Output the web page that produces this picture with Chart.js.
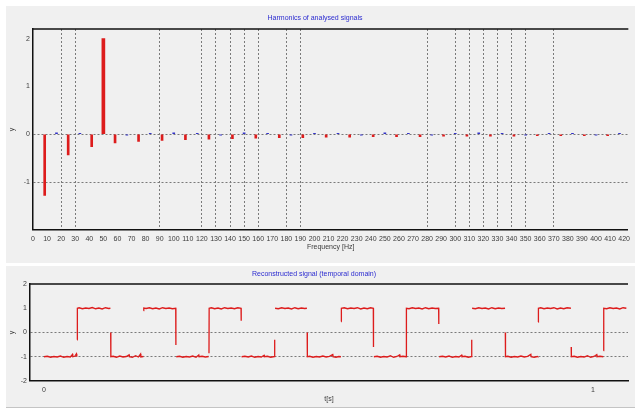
<!DOCTYPE html>
<html>
<head>
<meta charset="utf-8">
<script src="https://cdn.jsdelivr.net/npm/chart.js@4.4.0/dist/chart.umd.min.js"></script>
<style>
  html, body { margin: 0; padding: 0; background: #fff; }
  body { width: 635px; height: 409px; position: relative; overflow: hidden; }
  .panel { position: absolute; background: #f0f0f0; }
  #p1 { left: 6px; top: 6px; width: 629px; height: 257px; }
  #p2 { left: 6px; top: 266px; width: 629px; height: 141px; border-bottom: 1px solid #c4c4c4; }
  canvas { position: absolute; left: 0; }
  #spectrum { top: 0; }
  #signal { top: 264px; }
</style>
</head>
<body>
<div class="panel" id="p1"></div>
<div class="panel" id="p2"></div>
<canvas id="spectrum" width="635" height="262"></canvas>
<canvas id="signal" width="635" height="144"></canvas>
<script>
// spectrum: odd harmonics (red stems), the 50 Hz line, even harmonics (blue, tiny)
const oddFreq = [8.3, 25, 41.7, 58.3, 75, 91.7, 108.3, 125, 141.7, 158.3, 175, 191.7,
  208.3, 225, 241.7, 258.3, 275, 291.7, 308.3, 325, 341.7, 358.3, 375, 391.7, 408.3];
const oddValue = [-1.28, -0.43, -0.26, -0.18, -0.15, -0.13, -0.11, -0.10, -0.09, -0.08, -0.07, -0.07,
  -0.06, -0.06, -0.05, -0.05, -0.05, -0.04, -0.04, -0.04, -0.04, -0.03, -0.03, -0.03, -0.03];
const peakFreq = [50];
const peakValue = [2.0];
const evenFreq = [16.7, 33.3, 50, 66.7, 83.3, 100, 116.7, 133.3, 150, 166.7, 183.3, 200,
  216.7, 233.3, 250, 266.7, 283.3, 300, 316.7, 333.3, 350, 366.7, 383.3, 400, 416.7];
const evenValue = [0.03, 0.02, 0.03, -0.02, 0.02, 0.03, 0.02, -0.02, 0.03, 0.02, -0.02, 0.02,
  0.02, -0.02, 0.03, 0.02, -0.02, 0.02, 0.03, 0.02, -0.02, 0.02, 0.02, -0.02, 0.02];
// frequencies that carry a dotted marker line
const markerFreq = [20, 30, 90, 120, 130, 140, 150, 160, 180, 190, 280, 300, 310, 320, 330, 340, 350, 370];
const spectrumGridY = [0, -1];

// reconstructed signal, [t, y]; null breaks the trace
const reconSignal = [
  [0.000,-1.00],[0.006,-0.98],[0.012,-1.02],[0.018,-0.99],[0.024,-1.01],[0.030,-0.97],[0.036,-1.02],[0.042,-0.99],
  [0.048,-1.01],[0.052,-0.90],[0.0525,-1.00],[0.056,-0.98],[0.059,-0.88],[0.0595,-1.00],[0.060,-0.99],
  [0.0602,null],
  [0.0605,-0.30],[0.0608,1.00],
  [0.064,1.02],[0.070,0.98],[0.076,1.01],[0.082,0.99],[0.088,1.03],[0.094,0.98],[0.100,1.01],[0.106,0.97],
  [0.112,1.02],[0.118,0.99],[0.121,1.00],
  [0.1212,null],
  [0.1215,0.00],[0.1218,-1.00],
  [0.126,-0.98],[0.132,-1.02],[0.138,-0.97],[0.144,-1.01],[0.150,-0.99],[0.155,-0.92],[0.1555,-1.00],[0.161,-1.02],
  [0.167,-0.96],[0.172,-1.01],[0.176,-0.89],[0.1765,-1.01],[0.181,-0.99],
  [0.1812,null],
  [0.1815,0.90],[0.1818,1.01],
  [0.186,0.99],[0.192,1.02],[0.198,0.98],[0.204,1.01],[0.210,0.97],[0.216,1.02],[0.222,0.99],[0.228,1.01],
  [0.234,0.98],[0.240,1.00],
  [0.2403,-0.52],
  [0.2406,null],
  [0.241,-1.00],[0.247,-0.98],[0.253,-1.02],[0.259,-0.99],[0.265,-1.01],[0.271,-0.97],[0.277,-1.02],[0.282,-0.93],
  [0.2825,-1.00],[0.288,-0.98],[0.294,-1.01],[0.300,-0.99],
  [0.3003,null],
  [0.3006,-0.86],[0.3009,1.00],
  [0.305,1.02],[0.311,0.98],[0.317,1.01],[0.323,0.97],[0.329,1.02],[0.335,0.99],[0.341,1.01],[0.347,0.98],
  [0.353,1.02],[0.359,1.00],
  [0.3593,0.48],
  [0.3596,null],
  [0.360,-1.00],[0.366,-0.98],[0.372,-1.01],[0.378,-0.97],[0.384,-1.02],[0.390,-0.99],[0.396,-1.01],[0.401,-0.94],
  [0.4015,-1.00],[0.407,-0.98],[0.413,-1.02],[0.420,-0.99],
  [0.4203,-0.30],
  [0.4206,null],
  [0.421,1.00],[0.427,0.98],[0.433,1.02],[0.439,0.99],[0.445,1.01],[0.451,0.97],[0.457,1.02],[0.463,0.98],
  [0.469,1.01],[0.475,0.99],[0.479,1.00],
  [0.4792,null],
  [0.4795,0.00],[0.4798,-1.00],
  [0.484,-0.98],[0.490,-1.02],[0.496,-0.99],[0.502,-1.01],[0.508,-0.97],[0.514,-1.01],[0.520,-0.98],[0.526,-0.91],
  [0.5265,-1.00],[0.532,-1.02],[0.537,-0.99],[0.541,-1.00],
  [0.5412,null],
  [0.5415,0.45],[0.5418,1.00],
  [0.547,1.02],[0.553,0.98],[0.559,1.01],[0.565,0.99],[0.571,1.02],[0.577,0.97],[0.583,1.01],[0.589,0.98],
  [0.595,1.02],[0.600,1.00],
  [0.6003,-0.60],
  [0.6006,null],
  [0.601,-1.00],[0.607,-0.98],[0.613,-1.02],[0.619,-0.99],[0.625,-1.01],[0.631,-0.96],[0.637,-1.02],[0.643,-0.99],
  [0.648,-0.92],[0.6485,-1.00],[0.654,-0.98],[0.660,-1.00],
  [0.6603,1.00],
  [0.665,0.98],[0.671,1.02],[0.677,0.99],[0.683,1.01],[0.689,0.97],[0.695,1.02],[0.701,0.98],[0.707,1.01],
  [0.713,0.99],[0.719,1.00],
  [0.7193,0.35],
  [0.7196,null],
  [0.720,-1.00],[0.726,-0.98],[0.732,-1.01],[0.738,-0.97],[0.744,-1.02],[0.750,-0.99],[0.756,-1.01],[0.761,-0.93],
  [0.7615,-1.00],[0.767,-0.98],[0.773,-1.02],[0.779,-0.99],
  [0.7793,-0.30],
  [0.7796,null],
  [0.780,1.00],[0.786,0.98],[0.792,1.02],[0.798,0.99],[0.804,1.01],[0.810,0.97],[0.816,1.02],[0.822,0.98],
  [0.828,1.01],[0.834,0.99],[0.840,1.00],
  [0.8402,null],
  [0.8405,0.00],[0.8408,-1.00],
  [0.845,-0.98],[0.851,-1.02],[0.857,-0.99],[0.863,-1.01],[0.869,-0.97],[0.875,-1.01],[0.881,-0.98],[0.887,-0.90],
  [0.8875,-1.00],[0.893,-1.02],[0.899,-0.99],[0.900,-1.00],
  [0.9002,null],
  [0.9005,0.43],[0.9008,1.00],
  [0.905,1.02],[0.911,0.98],[0.917,1.01],[0.923,0.99],[0.929,1.02],[0.935,0.97],[0.941,1.01],[0.947,0.98],
  [0.953,1.02],[0.960,1.00],
  [0.9602,null],
  [0.9605,-0.60],[0.9608,-1.00],
  [0.966,-0.98],[0.972,-1.02],[0.978,-0.99],[0.984,-1.01],[0.990,-0.96],[0.996,-1.02],[1.002,-0.99],[1.007,-0.91],
  [1.0075,-1.00],[1.013,-0.98],[1.019,-1.00],
  [1.0192,null],
  [1.0195,-0.75],[1.0198,1.00],
  [1.025,0.98],[1.031,1.02],[1.037,0.99],[1.043,1.01],[1.049,0.97],[1.055,1.02],[1.061,1.00]
];
const signalGridY = [0, -1];

const fontFam = "'Liberation Sans', Arial, sans-serif";
const tickFont = { family: fontFam, size: 7 };
const tickColor = '#3c3c3c';
const titleBlue = '#2b2bd0';
const red = '#dd1c1c';
const blue = '#3232c8';

const toPoints = (xs, ys) => xs.map((x, i) => ({ x: x, y: ys[i] }));

// top edge of the plot frame
const topFrame = {
  id: 'topFrame',
  afterDraw(chart) {
    const { ctx, chartArea: a } = chart;
    ctx.save();
    ctx.strokeStyle = '#111';
    ctx.lineWidth = 1.5;
    ctx.beginPath();
    ctx.moveTo(a.left, a.top);
    ctx.lineTo(a.right, a.top);
    ctx.stroke();
    ctx.restore();
  }
};

const frameBorder = { display: true, color: '#111', width: 1.5, dash: [2, 2] };

new Chart(document.getElementById('spectrum'), {
  type: 'bar',
  data: {
    datasets: [
      { data: toPoints(oddFreq, oddValue), backgroundColor: red, barThickness: 2, grouped: false },
      { data: toPoints(peakFreq, peakValue), backgroundColor: red, barThickness: 3, grouped: false },
      { data: toPoints(evenFreq, evenValue), backgroundColor: blue, barThickness: 2, grouped: false }
    ]
  },
  options: {
    responsive: false,
    animation: false,
    layout: { padding: { left: 0, right: 5, top: 0, bottom: 6 } },
    plugins: {
      legend: { display: false },
      tooltip: { enabled: false },
      title: {
        display: true,
        text: 'Harmonics of analysed signals',
        color: titleBlue,
        font: { family: fontFam, size: 7, weight: 'normal' },
        padding: { top: 14, bottom: 6.6 }
      }
    },
    scales: {
      x: {
        type: 'linear',
        min: 0,
        max: 423,
        offset: false,
        ticks: { stepSize: 10, autoSkip: false, maxRotation: 0, includeBounds: false, padding: 5, font: tickFont, color: tickColor },
        grid: {
          offset: false,
          drawTicks: false,
          color: '#7a7a7a',
          lineWidth: ctx => markerFreq.includes(ctx.tick && ctx.tick.value) ? 1 : 0
        },
        border: frameBorder,
        title: { display: true, text: 'Frequency [Hz]', color: tickColor, font: tickFont, padding: { top: 0, bottom: 4.8 } },
        afterFit: s => { s.height = 26; }
      },
      y: {
        min: -2,
        max: 2.2,
        ticks: {
          stepSize: 1, includeBounds: false, padding: 3, font: tickFont, color: tickColor,
          callback: v => v === -2 ? '' : v
        },
        grid: {
          drawTicks: false,
          color: '#7a7a7a',
          lineWidth: ctx => spectrumGridY.includes(ctx.tick && ctx.tick.value) ? 1 : 0
        },
        border: frameBorder,
        title: { display: true, text: 'y', color: tickColor, font: tickFont, padding: { top: 7.8, bottom: 0 } },
        afterFit: s => { s.width = 33; }
      }
    }
  },
  plugins: [topFrame]
});

new Chart(document.getElementById('signal'), {
  type: 'line',
  data: {
    datasets: [{
      data: reconSignal.map(p => ({ x: p[0], y: p[1] })),
      borderColor: red,
      borderWidth: 1.3,
      pointRadius: 0,
      tension: 0,
      spanGaps: false
    }]
  },
  options: {
    responsive: false,
    animation: false,
    layout: { padding: { left: 0, right: 7, top: 0, bottom: 2 } },
    plugins: {
      legend: { display: false },
      tooltip: { enabled: false },
      title: {
        display: true,
        text: 'Reconstructed signal (temporal domain)',
        color: titleBlue,
        font: { family: fontFam, size: 7, weight: 'normal' },
        padding: { top: 6, bottom: 5.6 }
      }
    },
    scales: {
      x: {
        type: 'linear',
        min: -0.0255,
        max: 1.064,
        ticks: { stepSize: 1, includeBounds: false, maxRotation: 0, padding: 4.5, font: tickFont, color: tickColor },
        grid: { display: false, drawTicks: false },
        border: frameBorder,
        title: { display: true, text: 't[s]', color: tickColor, font: tickFont, padding: { top: 0, bottom: 2.8 } },
        afterFit: s => { s.height = 25; }
      },
      y: {
        min: -2,
        max: 2,
        ticks: { stepSize: 1, includeBounds: false, padding: 3, font: tickFont, color: tickColor },
        grid: {
          drawTicks: false,
          color: '#7a7a7a',
          lineWidth: ctx => signalGridY.includes(ctx.tick && ctx.tick.value) ? 1 : 0
        },
        border: frameBorder,
        title: { display: true, text: 'y', color: tickColor, font: tickFont, padding: { top: 7.8, bottom: 0 } },
        afterFit: s => { s.width = 30; }
      }
    }
  },
  plugins: [topFrame]
});
</script>
</body>
</html>
